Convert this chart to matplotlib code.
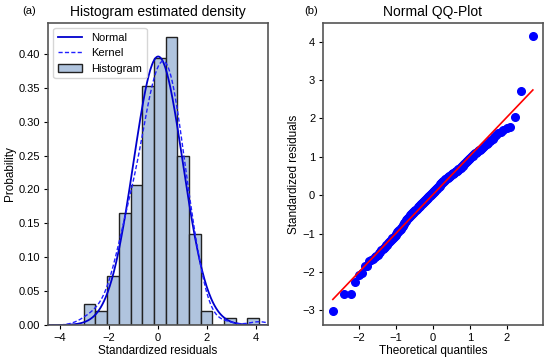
import numpy as np
import matplotlib
matplotlib.use("Agg")
import matplotlib.pyplot as plt
import seaborn as sns
from matplotlib.ticker import MultipleLocator
from statistics import NormalDist

residuals = [
    -3.03, -2.59, -2.57,
    -2.27, -2.09,
    -2.02, -1.86, -1.84, -1.72, -1.69, -1.66, -1.62,
    -1.58, -1.56, -1.51, -1.47, -1.43, -1.41, -1.38, -1.34, -1.31, -1.29,
    -1.25, -1.22, -1.19, -1.17, -1.15, -1.13,
    -1.11, -1.09, -1.06, -1.03, -1.00, -0.97, -0.95, -0.93, -0.92, -0.90,
    -0.88, -0.85, -0.83, -0.81, -0.79, -0.76, -0.73, -0.70, -0.68, -0.65,
    -0.62, -0.61, -0.59, -0.58, -0.56, -0.55, -0.53, -0.52, -0.50, -0.49,
    -0.47, -0.46, -0.45, -0.43, -0.42, -0.40, -0.39, -0.38, -0.36, -0.35,
    -0.33, -0.32, -0.31, -0.29, -0.28, -0.27, -0.25, -0.24, -0.23, -0.22,
    -0.21, -0.20, -0.19, -0.17,
    -0.15, -0.14, -0.13, -0.12, -0.10, -0.09, -0.08, -0.07, -0.05, -0.04,
    -0.03, -0.02, -0.01, 0.00, 0.01, 0.03, 0.04, 0.05, 0.06, 0.08,
    0.09, 0.10, 0.11, 0.12, 0.14, 0.15, 0.16, 0.17, 0.19, 0.20,
    0.21, 0.22, 0.24, 0.25, 0.26, 0.28, 0.29, 0.31,
    0.33, 0.34, 0.35, 0.36, 0.37, 0.38, 0.40, 0.41, 0.42, 0.43,
    0.44, 0.45, 0.46, 0.47, 0.48, 0.49, 0.50, 0.51, 0.52, 0.53,
    0.54, 0.55, 0.56, 0.57, 0.58, 0.59, 0.60, 0.61, 0.62, 0.63,
    0.64, 0.66, 0.67, 0.68, 0.69, 0.70, 0.72, 0.73, 0.75, 0.76, 0.78,
    0.80, 0.82, 0.84, 0.86, 0.88, 0.90, 0.92, 0.94, 0.95, 0.97,
    0.99, 1.01, 1.03, 1.05, 1.07, 1.09, 1.11, 1.13, 1.15, 1.17,
    1.19, 1.21, 1.23, 1.26,
    1.29, 1.31, 1.34, 1.37, 1.40, 1.44, 1.47, 1.51, 1.56, 1.61,
    1.66, 1.71, 1.74,
    1.77, 2.05,
    2.72,
    4.14,
]
n_bins = 15

plt.rcParams['font.family'] = ['Liberation Sans', 'DejaVu Sans']
plt.rcParams['font.size'] = 8
plt.rcParams['xtick.major.size'] = 3
plt.rcParams['ytick.major.size'] = 3
plt.rcParams['xtick.major.pad'] = 2.5
plt.rcParams['ytick.major.pad'] = 2.5
plt.rcParams['axes.labelpad'] = 2

res = np.array(residuals)
n = len(res)

fig, (ax1, ax2) = plt.subplots(1, 2, figsize=(5.5, 3.6), dpi=100)
fig.subplots_adjust(left=0.087, right=0.987, bottom=0.097, top=0.937, wspace=0.25)

# (a) histogram + normal fit + kernel density
ax1.hist(res, bins=n_bins, density=True, color='lightsteelblue',
         edgecolor='#222222', linewidth=1.0, label='Histogram')
xs = np.linspace(-4.5, 4.5, 400)
mu, sd = res.mean(), res.std()
ax1.plot(xs, np.exp(-0.5 * ((xs - mu) / sd) ** 2) / (sd * np.sqrt(2 * np.pi)),
         color='#0000cd', lw=1.3, label='Normal')
sns.kdeplot(x=res, ax=ax1, bw_method='scott', bw_adjust=1.15, cut=5,
            color='#2020ff', dashes=(3, 1.6), lw=1.0, label='Kernel')
ax1.set_xlim(-4.5, 4.5)
ax1.set_title('Histogram estimated density', fontsize=10, pad=5)
ax1.set_xlabel('Standardized residuals', fontsize=8.5)
ax1.set_ylabel('Probability', fontsize=8.5)
h, l = ax1.get_legend_handles_labels()
order = [l.index('Normal'), l.index('Kernel'), l.index('Histogram')]
ax1.legend([h[i] for i in order], [l[i] for i in order], loc='upper left',
           fontsize=8, handlelength=2.2)
ax1.text(-0.118, 1.028, '(a)', transform=ax1.transAxes, fontsize=8, ha='left')

# (b) normal QQ plot
m = np.empty(n)
m[-1] = 0.5 ** (1.0 / n)
m[0] = 1 - m[-1]
i = np.arange(2, n)
m[1:-1] = (i - 0.3175) / (n + 0.365)
theo = np.array([NormalDist().inv_cdf(p) for p in m])
ax2.plot(theo, np.sort(res), 'o', color='blue', ms=5.5)
slope, icpt = np.polyfit(theo, np.sort(res), 1)
ax2.plot([theo[0], theo[-1]], [slope * theo[0] + icpt, slope * theo[-1] + icpt],
         color='red', lw=1.2)
ax2.xaxis.set_major_locator(MultipleLocator(1))
ax2.yaxis.set_major_locator(MultipleLocator(1))
ax2.set_title('Normal QQ-Plot', fontsize=10, pad=5)
ax2.set_xlabel('Theoretical quantiles', fontsize=8.5)
ax2.set_ylabel('Standardized residuals', fontsize=8.5)
ax2.text(-0.085, 1.028, '(b)', transform=ax2.transAxes, fontsize=8, ha='left')

for ax in (ax1, ax2):
    for s in ax.spines.values():
        s.set_color('#555555')
        s.set_linewidth(1.2)

fig.savefig('out.png', dpi=100)
